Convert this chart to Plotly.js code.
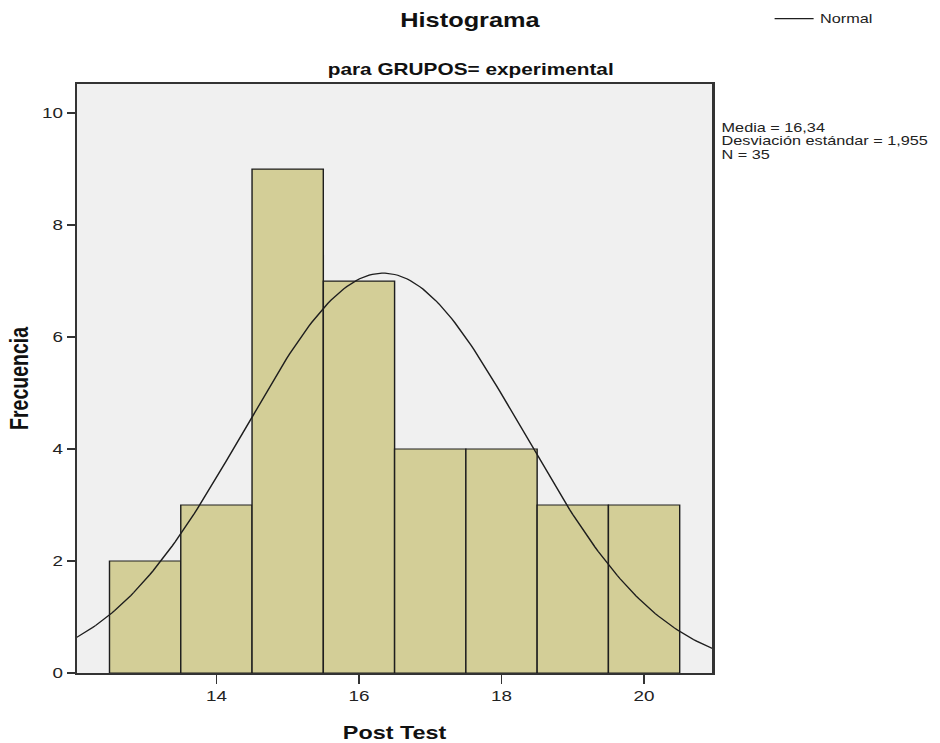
<!DOCTYPE html>
<html>
<head>
<meta charset="utf-8">
<script src="https://cdn.plot.ly/plotly-3.0.1.min.js"></script>
<style>
html,body{margin:0;padding:0;background:#fff;overflow:hidden;}
/* the reference picture is horizontally stretched ~1.3x; reproduce that stretch */
#chart{width:723px;height:743px;transform:scaleX(1.30014);transform-origin:0 0;}
</style>
</head>
<body>
<div id="chart"></div>
<script>
// Data
const binCenters = [13, 14, 15, 16, 17, 18, 19, 20];
const frequencies = [2, 3, 9, 7, 4, 4, 3, 3];
const binWidth = 1;
const media = 16.34;
const desviacion = 1.955;
const nTotal = 35;
const xTickVals = [14, 16, 18, 20];
const yTickVals = [0, 2, 4, 6, 8, 10];
const xRange = [12.04, 20.96];
const yRange = [0, 10.52];
const statsLines = ['Media = 16,34', 'Desviación estándar = 1,955', 'N = 35'];

// Normal curve defined by the stated mean, SD and N (scaled to bin width)
const curveX = [];
const curveY = [];
const steps = 200;
for (let i = 0; i <= steps; i++) {
  const x = xRange[0] + (xRange[1] - xRange[0]) * i / steps;
  const z = (x - media) / desviacion;
  curveX.push(x);
  curveY.push(nTotal * binWidth * Math.exp(-0.5 * z * z) / (desviacion * Math.sqrt(2 * Math.PI)));
}

const FONT = 'Liberation Sans, Arial, sans-serif';

const traces = [
  {
    type: 'bar',
    x: binCenters,
    y: frequencies,
    width: binWidth,
    marker: {color: '#d3ce97', line: {color: '#1e1e1e', width: 1.1}},
    showlegend: false,
    hoverinfo: 'x+y'
  },
  {
    type: 'scatter',
    mode: 'lines',
    x: curveX,
    y: curveY,
    name: 'Normal',
    line: {color: '#1e1e1e', width: 1.2},
    showlegend: true
  }
];

// paper y positions for the three stats lines (centres at ~126.5, 140, 153.5 px)
const statsY = [0.9253, 0.9024, 0.8795];

const layout = {
  width: 723,
  height: 743,
  margin: {l: 59, r: 175, t: 84, b: 70, autoexpand: false},
  paper_bgcolor: '#ffffff',
  plot_bgcolor: '#f0f0f0',
  font: {family: FONT, size: 13, color: '#222'},
  bargap: 0,
  xaxis: {
    range: xRange,
    tickvals: xTickVals,
    ticktext: xTickVals.map(String),
    ticks: 'outside',
    ticklen: 9,
    tickwidth: 1.3,
    tickcolor: '#333',
    showgrid: false,
    zeroline: false,
    showline: true,
    linecolor: '#333',
    linewidth: 1.6,
    mirror: true,
    automargin: false,
    tickfont: {family: FONT, size: 14.5, color: '#222'},
    title: {text: 'Post Test', font: {family: FONT, size: 18, color: '#111', weight: 'bold'}, standoff: 24}
  },
  yaxis: {
    range: yRange,
    tickvals: yTickVals,
    ticktext: yTickVals.map(String),
    ticks: 'outside',
    ticklen: 6,
    tickwidth: 1.3,
    tickcolor: '#333',
    showgrid: false,
    zeroline: false,
    showline: true,
    linecolor: '#333',
    linewidth: 1.6,
    mirror: true,
    automargin: false,
    tickfont: {family: FONT, size: 14.5, color: '#222'},
    title: {text: 'Frecuencia', font: {family: FONT, size: 19.5, color: '#111', weight: 'bold'}, standoff: 5}
  },
  title: {
    text: '<b>Histograma</b>',
    font: {family: FONT, size: 19.5, color: '#111'},
    x: 0.5, xref: 'container', xanchor: 'center',
    y: 0.973, yref: 'container', yanchor: 'middle'
  },
  showlegend: true,
  legend: {
    x: 1.0875, y: 1.1104, xanchor: 'left', yanchor: 'middle',
    bgcolor: 'rgba(0,0,0,0)',
    font: {family: FONT, size: 12.5, color: '#222'},
    itemwidth: 30
  },
  annotations: [
    {
      text: '<b>para GRUPOS= experimental</b>',
      xref: 'paper', yref: 'paper',
      x: 0.6202, y: 1.0238,
      xanchor: 'center', yanchor: 'middle',
      showarrow: false,
      font: {family: FONT, size: 16, color: '#111'}
    }
  ].concat(statsLines.map((t, i) => ({
    text: t,
    xref: 'paper', yref: 'paper',
    x: 1.0, y: statsY[i],
    xanchor: 'left', yanchor: 'middle',
    xshift: 6,
    borderpad: 0,
    align: 'left',
    showarrow: false,
    font: {family: FONT, size: 12.5, color: '#222'}
  })))
};

Plotly.newPlot('chart', traces, layout, {displayModeBar: false, staticPlot: true});
</script>
</body>
</html>
